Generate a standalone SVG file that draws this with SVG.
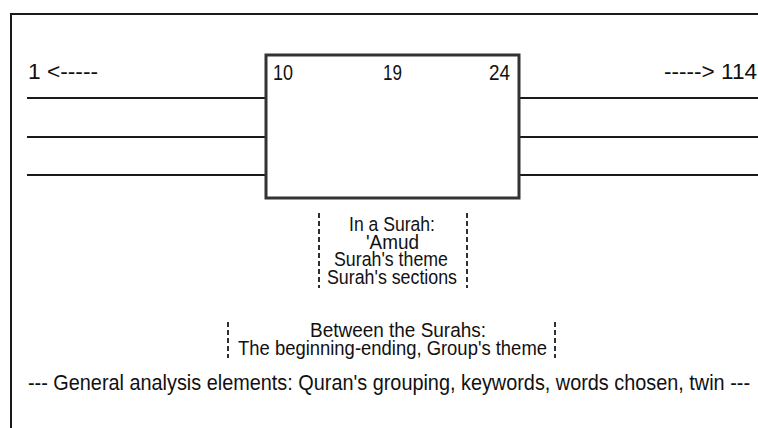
<svg xmlns="http://www.w3.org/2000/svg" width="758" height="428" viewBox="0 0 758 428">
<style>
text{font-family:"Liberation Sans Narrow","Arial Narrow","Liberation Sans",sans-serif;fill:#111}
.t20{font-size:22px}
.t19{font-size:20.5px}
.ln{stroke:#1a1a1a;stroke-width:2;fill:none}
.dash{stroke:#1a1a1a;stroke-width:1.8;stroke-dasharray:5,3;fill:none}
</style>
<rect width="758" height="428" fill="#fff"/>
<g id="frame"><path class="ln" d="M11,432 V14 H762" stroke-width="2.5"/></g>
<g id="connectors">
<line class="ln" x1="27" y1="98" x2="265" y2="98"/>
<line class="ln" x1="27" y1="137" x2="265" y2="137"/>
<line class="ln" x1="27" y1="175" x2="265" y2="175"/>
<line class="ln" x1="519" y1="98" x2="758" y2="98"/>
<line class="ln" x1="519" y1="137" x2="758" y2="137"/>
<line class="ln" x1="519" y1="175" x2="758" y2="175"/>
</g>
<g id="box">
<rect x="266" y="55" width="253" height="143" fill="none" stroke="#333" stroke-width="3"/>
<text class="t20" x="273" y="80" textLength="20" lengthAdjust="spacingAndGlyphs">10</text>
<text class="t20" x="383" y="80" textLength="19" lengthAdjust="spacingAndGlyphs">19</text>
<text class="t20" x="489" y="80" textLength="21" lengthAdjust="spacingAndGlyphs">24</text>
</g>
<g id="left-label"><text class="t20" x="28" y="79" textLength="70" lengthAdjust="spacingAndGlyphs">1 &lt;-----</text></g>
<g id="right-label"><text class="t20" x="664" y="79" textLength="93" lengthAdjust="spacingAndGlyphs">-----&gt; 114</text></g>
<g id="in-surah">
<line class="dash" x1="319" y1="213" x2="319" y2="288"/>
<line class="dash" x1="467" y1="213" x2="467" y2="288"/>
<text class="t19" x="349" y="231" textLength="86" lengthAdjust="spacingAndGlyphs">In a Surah:</text>
<text class="t19" x="366" y="248.5" textLength="53" lengthAdjust="spacingAndGlyphs">'Amud</text>
<text class="t19" x="334" y="266" textLength="114" lengthAdjust="spacingAndGlyphs">Surah's theme</text>
<text class="t19" x="327" y="284" textLength="130" lengthAdjust="spacingAndGlyphs">Surah's sections</text>
</g>
<g id="between">
<line class="dash" x1="228" y1="322" x2="228" y2="358"/>
<line class="dash" x1="555" y1="322" x2="555" y2="358"/>
<text class="t19" x="310" y="337" textLength="176" lengthAdjust="spacingAndGlyphs">Between the Surahs:</text>
<text class="t19" x="238" y="355" textLength="309" lengthAdjust="spacingAndGlyphs">The beginning-ending, Group's theme</text>
</g>
<g id="general">
<text class="t20" x="28" y="390" textLength="722" lengthAdjust="spacingAndGlyphs">--- General analysis elements: Quran's grouping, keywords, words chosen, twin ---</text>
</g>
</svg>
